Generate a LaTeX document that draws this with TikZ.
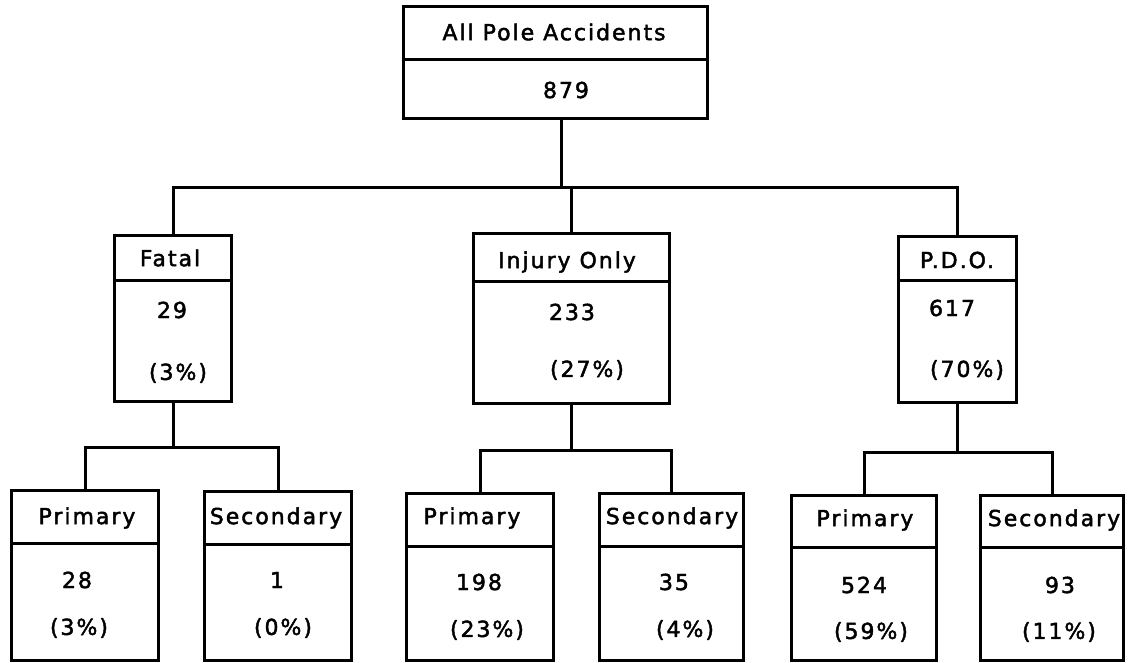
\documentclass[tikz,border=0pt]{standalone}
\usepackage{fontspec}
\setmainfont{DejaVu Sans}[LetterSpace=9, FakeBold=2]
\begin{document}
\begin{tikzpicture}[x=1pt,y=-1pt,
  boxs/.style={draw=black, line width=3.2pt, inner sep=0pt, anchor=north west, fill=none},
  conn/.style={draw=black, line width=3pt},
  lbl/.style={font=\fontsize{22}{26}\selectfont, inner sep=0pt, anchor=center}]
\useasboundingbox (0,0) rectangle (1128,662);
% macro: name, left, top, right, divider, bottom
\newcommand{\pbox}[6]{%
  \node[boxs, minimum width={(#4-#2)*1pt}, minimum height={(#5-#3)*1pt}] (#1-h) at (#2,#3) {};
  \node[boxs, minimum width={(#4-#2)*1pt}, minimum height={(#6-#5)*1pt}] (#1-b) at (#2,#5) {};
}
\pbox{all}{402}{5}{706}{58}{117}
\pbox{fat}{113}{234}{230}{279}{400}
\pbox{inj}{472}{232}{668}{280}{402}
\pbox{pdo}{897}{235}{1015}{279}{401}
\pbox{fp}{10}{489}{157}{542}{659}
\pbox{fs}{203}{490}{350}{543}{659}
\pbox{ip}{405}{492}{552}{545}{659}
\pbox{is}{598}{492}{742}{545}{659}
\pbox{pp}{790}{494}{935}{546}{659}
\pbox{ps}{979}{494}{1122}{546}{659}
% labels
\node[lbl] (t-all) at (554,32) {All Pole Accidents};
\node[lbl] (n-all) at (566,90) {879};
\node[lbl] (t-fat) at (170,258) {Fatal};
\node[lbl] (n-fat) at (172,310) {29};
\node[lbl] (p-fat) at (178,373) {(3\%)};
\node[lbl] (t-inj) at (567,262) {Injury Only};
\node[lbl] (n-inj) at (572,312) {233};
\node[lbl] (p-inj) at (587,370) {(27\%)};
\node[lbl] (t-pdo) at (957,260) {P.D.O.};
\node[lbl] (n-pdo) at (952,308) {617};
\node[lbl] (p-pdo) at (967,370) {(70\%)};
\node[lbl] (t-fp) at (87,518) {Primary};
\node[lbl] (n-fp) at (77,580) {28};
\node[lbl] (p-fp) at (79,628) {(3\%)};
\node[lbl] (t-fs) at (276,518) {Secondary};
\node[lbl] (n-fs) at (277,580) {1};
\node[lbl] (p-fs) at (283,628) {(0\%)};
\node[lbl] (t-ip) at (472,518) {Primary};
\node[lbl] (n-ip) at (479,582) {198};
\node[lbl] (p-ip) at (487,630) {(23\%)};
\node[lbl] (t-is) at (672,518) {Secondary};
\node[lbl] (n-is) at (674,582) {35};
\node[lbl] (p-is) at (685,630) {(4\%)};
\node[lbl] (t-pp) at (865,520) {Primary};
\node[lbl] (n-pp) at (864,585) {524};
\node[lbl] (p-pp) at (871,632) {(59\%)};
\node[lbl] (t-ps) at (1054,520) {Secondary};
\node[lbl] (n-ps) at (1060,585) {93};
\node[lbl] (p-ps) at (1059,632) {(11\%)};
% junctions
\coordinate (j1) at (561,187);
\coordinate (j2) at (176,447);
\coordinate (j3) at (570,450);
\coordinate (j4) at (956,452);
% connectors
\draw[conn] (all-b.south -| j1) -- (j1);
\draw[conn] (fat-h.north) |- (j1) -| (pdo-h.north);
\draw[conn] (inj-h.north) -- (inj-h.north |- j1);
\draw[conn] (fat-b.south) -- (fat-b.south |- j2);
\draw[conn] (fp-h.north) |- (j2) -| (fs-h.north);
\draw[conn] (inj-b.south) -- (inj-b.south |- j3);
\draw[conn] (ip-h.north) |- (j3) -| (is-h.north);
\draw[conn] (pdo-b.south) -- (pdo-b.south |- j4);
\draw[conn] (pp-h.north) |- (j4) -| (ps-h.north);
\end{tikzpicture}
\end{document}
